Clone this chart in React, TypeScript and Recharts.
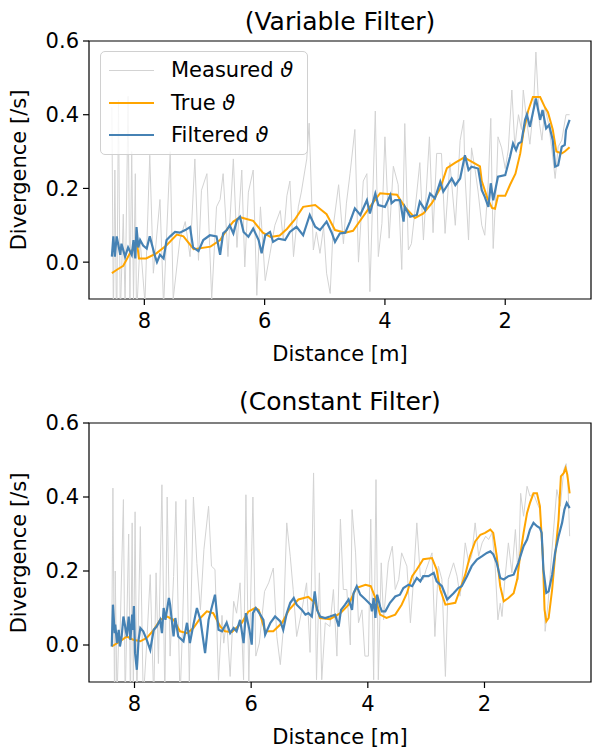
import React from 'react';
import { LineChart, Line, XAxis, YAxis, ReferenceArea } from 'recharts';

const FONT = '"DejaVu Sans", sans-serif';

type Pt = [number, number];

// [distance m, divergence /s]
const topMeasured: Pt[] = [
  [8.54, 0.42], [8.515, -0.15], [8.49, 0.25], [8.46, -0.2], [8.43, 0.44], [8.4, -0.15],
  [8.35, 0.13], [8.32, -0.12], [8.27, 0.45], [8.24, -0.12], [8.21, 0.3], [8.18, -0.1],
  [8.15, 0.24], [8.13, -0.15], [8.07, 0.06], [7.99, -0.11], [7.91, 0.29], [7.85, -0.03],
  [7.74, 0.17], [7.68, -0.12], [7.57, 0.3], [7.52, -0.1], [7.41, 0.06], [7.32, 0.11],
  [7.24, 0.015], [7.16, 0.28], [7.1, 0.005], [7.05, 0.195], [6.96, 0.24], [6.88, -0.1],
  [6.8, 0.15], [6.74, 0.17], [6.69, 0.24], [6.61, 0.015], [6.52, 0.28], [6.46, 0.04],
  [6.38, 0.25], [6.33, -0.013], [6.27, 0.19], [6.19, 0.25], [6.13, -0.09], [6.07, 0.15],
  [5.99, -0.05], [5.91, 0.024], [5.83, 0.1], [5.74, 0.14], [5.69, 0.06], [5.63, 0.18],
  [5.58, 0.22], [5.52, 0.015], [5.44, 0.15], [5.39, 0.19], [5.3, 0.28], [5.26, 0.377],
  [5.19, 0.033], [5.14, 0.082], [5.08, 0.024], [5.02, 0.096], [4.97, -0.03], [4.91, -0.085],
  [4.86, 0.096], [4.77, 0.21], [4.69, 0.05], [4.64, 0.16], [4.58, 0.24], [4.5, 0.36],
  [4.44, 0.0], [4.36, 0.22], [4.3, 0.24], [4.25, -0.08], [4.16, 0.41], [4.11, 0.015],
  [4.05, 0.105], [4.0, 0.34], [3.93, 0.065], [3.86, 0.26], [3.78, 0.21], [3.72, -0.02],
  [3.67, 0.376], [3.61, 0.033], [3.56, 0.05], [3.5, 0.14], [3.42, 0.27], [3.36, 0.06],
  [3.26, 0.34], [3.2, 0.08], [3.14, 0.295], [3.06, 0.295], [3.0, 0.078], [2.92, 0.27],
  [2.83, 0.1], [2.75, 0.33], [2.69, 0.385], [2.67, 0.24], [2.61, 0.06], [2.56, 0.31],
  [2.5, 0.25], [2.45, 0.19], [2.39, 0.1], [2.34, 0.073], [2.28, 0.223], [2.24, 0.39],
  [2.2, 0.037], [2.14, 0.24], [2.12, 0.34], [2.06, 0.31], [2.0, 0.254], [1.95, 0.304],
  [1.89, 0.467], [1.84, 0.313], [1.78, 0.4], [1.73, 0.36], [1.7, 0.467], [1.64, 0.38],
  [1.59, 0.32], [1.53, 0.42], [1.49, 0.57], [1.43, 0.376], [1.39, 0.331], [1.34, 0.42],
  [1.28, 0.376], [1.23, 0.313], [1.17, 0.227], [1.12, 0.313], [1.06, 0.331], [0.99, 0.4],
  [0.93, 0.4],
];

const topTrue: Pt[] = [
  [8.54, -0.03], [8.45, -0.02], [8.35, -0.01], [8.24, 0.024], [8.18, 0.037], [8.12, 0.05],
  [8.09, 0.01], [7.97, 0.01], [7.8, 0.024], [7.63, 0.046], [7.46, 0.075], [7.35, 0.07],
  [7.18, 0.035], [6.9, 0.042], [6.74, 0.06], [6.62, 0.09], [6.52, 0.11], [6.41, 0.122],
  [6.19, 0.112], [6.03, 0.08], [5.9, 0.068], [5.75, 0.072], [5.63, 0.09], [5.5, 0.115],
  [5.36, 0.15], [5.16, 0.155], [4.97, 0.13], [4.83, 0.087], [4.66, 0.08], [4.53, 0.085],
  [4.41, 0.113], [4.25, 0.15], [4.08, 0.187], [3.95, 0.185], [3.8, 0.183], [3.67, 0.15],
  [3.5, 0.12], [3.36, 0.132], [3.22, 0.16], [3.08, 0.2], [2.97, 0.255], [2.83, 0.27],
  [2.67, 0.285], [2.64, 0.28], [2.42, 0.26], [2.39, 0.22], [2.3, 0.175], [2.22, 0.147],
  [2.17, 0.145], [2.12, 0.18], [2.0, 0.18], [1.92, 0.21], [1.83, 0.24], [1.75, 0.295],
  [1.7, 0.35], [1.62, 0.41], [1.54, 0.448], [1.42, 0.448], [1.34, 0.42], [1.29, 0.407],
  [1.21, 0.36], [1.15, 0.3], [1.06, 0.295], [1.01, 0.3], [0.93, 0.312],
];

const topFiltered: Pt[] = [
  [8.54, 0.015], [8.515, 0.07], [8.49, 0.015], [8.46, 0.07], [8.4, 0.02], [8.38, 0.05],
  [8.32, 0.015], [8.27, 0.04], [8.21, 0.02], [8.18, 0.06], [8.15, 0.01], [8.13, 0.095],
  [8.1, 0.04], [8.07, 0.06], [8.02, 0.045], [7.96, 0.037], [7.91, 0.07], [7.82, 0.015],
  [7.79, 0.0], [7.74, 0.02], [7.68, 0.01], [7.63, 0.06], [7.57, 0.07], [7.49, 0.082],
  [7.41, 0.08], [7.32, 0.087], [7.24, 0.095], [7.19, 0.04], [7.1, 0.03], [7.02, 0.06],
  [6.91, 0.073], [6.8, 0.07], [6.74, 0.02], [6.69, 0.078], [6.63, 0.087], [6.58, 0.1],
  [6.52, 0.078], [6.46, 0.114], [6.41, 0.123], [6.35, 0.082], [6.27, 0.069], [6.19, 0.091],
  [6.1, 0.06], [6.05, 0.024], [5.99, 0.073], [5.91, 0.082], [5.86, 0.055], [5.77, 0.064],
  [5.66, 0.06], [5.58, 0.082], [5.47, 0.096], [5.36, 0.073], [5.25, 0.128], [5.16, 0.096],
  [5.08, 0.087], [4.97, 0.11], [4.88, 0.078], [4.83, 0.055], [4.75, 0.078], [4.66, 0.08],
  [4.58, 0.11], [4.5, 0.146], [4.41, 0.128], [4.3, 0.168], [4.25, 0.132], [4.16, 0.186],
  [4.11, 0.155], [4.0, 0.15], [3.91, 0.182], [3.89, 0.16], [3.83, 0.168], [3.75, 0.168],
  [3.69, 0.11], [3.67, 0.15], [3.58, 0.123], [3.47, 0.128], [3.42, 0.164], [3.33, 0.141],
  [3.25, 0.186], [3.17, 0.173], [3.08, 0.218], [3.03, 0.191], [2.89, 0.227], [2.83, 0.209],
  [2.75, 0.227], [2.67, 0.29], [2.61, 0.25], [2.56, 0.259], [2.45, 0.254], [2.39, 0.195],
  [2.34, 0.177], [2.28, 0.15], [2.24, 0.214], [2.2, 0.168], [2.12, 0.232], [2.0, 0.236],
  [1.92, 0.286], [1.87, 0.322], [1.82, 0.304], [1.78, 0.322], [1.73, 0.327], [1.67, 0.386],
  [1.64, 0.4], [1.59, 0.367], [1.49, 0.444], [1.42, 0.386], [1.38, 0.413], [1.32, 0.363],
  [1.27, 0.372], [1.21, 0.331], [1.17, 0.259], [1.12, 0.263], [1.06, 0.313], [1.01, 0.318],
  [0.99, 0.358], [0.93, 0.386],
];

const bottomMeasured: Pt[] = [
  [8.39, 0.0], [8.37, 0.424], [8.34, -0.2], [8.33, 0.2], [8.3, -0.15], [8.27, 0.03],
  [8.25, 0.014], [8.19, 0.393], [8.16, -0.15], [8.1, 0.3], [8.07, -0.15], [8.04, 0.33],
  [8.02, -0.14], [7.99, 0.36], [7.96, -0.15], [7.9, 0.32], [7.85, -0.15], [7.79, 0.005],
  [7.73, 0.19], [7.67, -0.15], [7.63, 0.195], [7.59, -0.05], [7.53, 0.433], [7.48, -0.15],
  [7.44, 0.4], [7.39, -0.03], [7.33, 0.185], [7.29, 0.388], [7.22, -0.15], [7.18, 0.032],
  [7.12, 0.393], [7.06, -0.1], [6.99, 0.4], [6.93, 0.22], [6.87, 0.095], [6.81, 0.258],
  [6.73, 0.375], [6.68, 0.213], [6.62, 0.204], [6.56, -0.095], [6.5, 0.08], [6.47, 0.005],
  [6.42, 0.068], [6.36, -0.085], [6.3, 0.118], [6.25, 0.086], [6.19, 0.168], [6.13, -0.094],
  [6.09, 0.406], [6.04, -0.1], [5.97, 0.4], [5.92, -0.03], [5.86, 0.005], [5.77, 0.145],
  [5.7, 0.168], [5.62, 0.208], [5.56, 0.023], [5.5, -0.053], [5.45, 0.041], [5.39, 0.33],
  [5.33, 0.24], [5.28, 0.15], [5.22, 0.023], [5.13, 0.095], [5.05, 0.168], [4.99, -0.02],
  [4.93, 0.465], [4.88, -0.094], [4.83, 0.195], [4.79, -0.094], [4.73, 0.06], [4.65, 0.05],
  [4.59, 0.15], [4.53, -0.03], [4.47, 0.34], [4.42, 0.15], [4.36, 0.15], [4.3, 0.0],
  [4.27, 0.366], [4.21, 0.249], [4.16, 0.06], [4.1, 0.095], [4.05, -0.03], [3.99, -0.03],
  [3.95, 0.34], [3.9, -0.094], [3.86, 0.447], [3.82, -0.094], [3.77, 0.222], [3.73, 0.068],
  [3.65, 0.222], [3.58, 0.267], [3.53, 0.15], [3.47, 0.177], [3.42, 0.249], [3.33, 0.213],
  [3.27, 0.06], [3.22, 0.168], [3.16, 0.33], [3.1, 0.186], [3.05, 0.177], [3.0, 0.204],
  [2.9, 0.249], [2.85, 0.023], [2.79, 0.213], [2.73, 0.177], [2.67, -0.085], [2.62, 0.177],
  [2.53, 0.222], [2.47, 0.186], [2.42, 0.132], [2.39, 0.168], [2.33, 0.276], [2.27, 0.222],
  [2.22, 0.24], [2.16, 0.33], [2.1, 0.24], [2.04, 0.276], [1.98, 0.294], [1.93, 0.285],
  [1.87, 0.303], [1.82, 0.222], [1.77, 0.068], [1.73, 0.113], [1.7, 0.077], [1.65, 0.177],
  [1.59, 0.276], [1.53, 0.195], [1.47, 0.312], [1.42, 0.177], [1.38, 0.41], [1.33, 0.348],
  [1.27, 0.429], [1.22, 0.402], [1.16, 0.41], [1.1, 0.384], [1.05, 0.366], [1.0, 0.258],
  [0.96, 0.037], [0.91, 0.113], [0.86, 0.222], [0.82, 0.303], [0.76, 0.42], [0.7, 0.375],
  [0.64, 0.474], [0.6, 0.49], [0.57, 0.438], [0.54, 0.294],
];

const bottomTrue: Pt[] = [
  [8.39, -0.004], [8.25, 0.01], [8.13, 0.023], [8.02, 0.014], [7.9, 0.01], [7.79, 0.019],
  [7.67, 0.041], [7.56, 0.068], [7.44, 0.077], [7.33, 0.068], [7.22, 0.037], [7.1, 0.032],
  [6.99, 0.046], [6.87, 0.073], [6.76, 0.091], [6.65, 0.086], [6.53, 0.05], [6.45, 0.037],
  [6.33, 0.035], [6.16, 0.06], [6.05, 0.09], [5.93, 0.1], [5.87, 0.095], [5.76, 0.037],
  [5.62, 0.037], [5.47, 0.06], [5.35, 0.095], [5.19, 0.123], [5.02, 0.13], [4.9, 0.113],
  [4.82, 0.073], [4.65, 0.07], [4.47, 0.086], [4.33, 0.109], [4.2, 0.154], [4.04, 0.163],
  [3.95, 0.159], [3.87, 0.127], [3.79, 0.082], [3.68, 0.073], [3.53, 0.082], [3.42, 0.109],
  [3.33, 0.14], [3.24, 0.186], [3.16, 0.204], [3.05, 0.232], [2.9, 0.235], [2.82, 0.204],
  [2.76, 0.15], [2.67, 0.109], [2.5, 0.114], [2.42, 0.15], [2.33, 0.19], [2.25, 0.24],
  [2.16, 0.28], [2.07, 0.298], [1.99, 0.303], [1.9, 0.312], [1.85, 0.303], [1.79, 0.24],
  [1.73, 0.159], [1.67, 0.118], [1.59, 0.127], [1.5, 0.14], [1.44, 0.177], [1.39, 0.24],
  [1.33, 0.303], [1.27, 0.357], [1.22, 0.384], [1.16, 0.41], [1.1, 0.41], [1.05, 0.375],
  [1.0, 0.24], [0.97, 0.095], [0.94, 0.064], [0.9, 0.073], [0.84, 0.15], [0.79, 0.24],
  [0.73, 0.339], [0.69, 0.456], [0.64, 0.465], [0.61, 0.478], [0.58, 0.46], [0.54, 0.41],
];

const bottomFiltered: Pt[] = [
  [8.39, -0.004], [8.37, 0.109], [8.34, 0.032], [8.33, 0.055], [8.3, 0.005], [8.27, 0.041],
  [8.25, -0.004], [8.22, 0.023], [8.19, 0.077], [8.16, 0.05], [8.13, 0.023], [8.1, 0.077],
  [8.07, 0.014], [8.04, 0.082], [8.03, 0.041], [8.01, 0.105], [7.99, -0.022], [7.96, -0.067],
  [7.93, 0.014], [7.9, 0.046], [7.85, 0.037], [7.79, 0.014], [7.73, -0.013], [7.67, 0.041],
  [7.62, 0.05], [7.56, 0.068], [7.53, 0.032], [7.5, 0.1], [7.47, 0.068], [7.41, 0.127],
  [7.39, 0.109], [7.33, 0.023], [7.3, 0.073], [7.25, 0.023], [7.16, 0.01], [7.1, 0.06],
  [7.05, 0.005], [6.99, 0.055], [6.93, 0.1], [6.87, 0.068], [6.79, -0.022], [6.73, 0.068],
  [6.62, 0.136], [6.56, 0.041], [6.5, 0.037], [6.42, 0.06], [6.36, 0.032], [6.3, 0.046],
  [6.25, 0.037], [6.19, 0.068], [6.13, 0.005], [6.09, 0.086], [6.03, 0.041], [5.99, 0.001],
  [5.97, 0.086], [5.92, 0.1], [5.86, 0.086], [5.79, 0.068], [5.76, 0.028], [5.67, 0.06],
  [5.59, 0.077], [5.5, 0.064], [5.45, 0.041], [5.39, 0.086], [5.33, 0.114], [5.27, 0.127],
  [5.22, 0.109], [5.13, 0.095], [5.07, 0.082], [5.02, 0.086], [4.96, 0.077], [4.91, 0.145],
  [4.87, 0.095], [4.82, 0.077], [4.73, 0.073], [4.65, 0.077], [4.56, 0.082], [4.5, 0.05],
  [4.46, 0.095], [4.39, 0.109], [4.33, 0.123], [4.27, 0.095], [4.245, 0.14], [4.19, 0.159],
  [4.13, 0.136], [4.04, 0.123], [3.95, 0.109], [3.93, 0.091], [3.9, 0.127], [3.87, 0.073],
  [3.84, 0.136], [3.79, 0.104], [3.76, 0.091], [3.7, 0.091], [3.62, 0.114], [3.53, 0.131],
  [3.45, 0.136], [3.39, 0.154], [3.3, 0.163], [3.24, 0.159], [3.16, 0.181], [3.1, 0.172],
  [3.05, 0.186], [2.96, 0.186], [2.87, 0.195], [2.82, 0.172], [2.73, 0.159], [2.64, 0.123],
  [2.53, 0.14], [2.45, 0.154], [2.39, 0.159], [2.3, 0.186], [2.22, 0.213], [2.13, 0.231],
  [2.04, 0.24], [1.96, 0.249], [1.9, 0.253], [1.85, 0.245], [1.79, 0.222], [1.73, 0.181],
  [1.67, 0.177], [1.59, 0.186], [1.5, 0.19], [1.42, 0.222], [1.33, 0.267], [1.27, 0.285],
  [1.22, 0.312], [1.16, 0.33], [1.1, 0.321], [1.05, 0.316], [1.02, 0.303], [0.99, 0.204],
  [0.94, 0.141], [0.9, 0.145], [0.84, 0.19], [0.79, 0.249], [0.73, 0.294], [0.67, 0.33],
  [0.63, 0.366], [0.59, 0.384], [0.54, 0.37],
];

const yTicks = [0, 0.2, 0.4, 0.6];
const xTicks = [2, 4, 6, 8];
const legendLabels = ['Measured', 'True', 'Filtered'];

const GREY = '#d3d3d3';
const ORANGE = '#ffa500';
const BLUE = '#4682b4';

const toRows = (pts: Pt[]) => pts.map(([d, v]) => ({ d, v }));

const LegendBox: React.FC = () => {
  const colors = [GREY, ORANGE, BLUE];
  const widths = [1, 2, 2.2];
  return (
    <div
      style={{
        position: 'absolute',
        left: 100,
        top: 51,
        width: 208,
        height: 104,
        boxSizing: 'border-box',
        border: '1px solid #d0d0d0',
        borderRadius: 5,
        background: 'rgba(255,255,255,0.8)',
        fontFamily: FONT,
        fontSize: 21,
      }}
    >
      {legendLabels.map((label, i) => {
        const cy = 18 + i * 32.5;
        return (
          <React.Fragment key={label}>
            <div
              style={{
                position: 'absolute',
                left: 8,
                top: cy - widths[i] / 2,
                width: 45,
                height: widths[i],
                background: colors[i],
              }}
            />
            <div
              style={{
                position: 'absolute',
                left: 70,
                top: cy,
                transform: 'translateY(-50%)',
                lineHeight: 1,
                whiteSpace: 'nowrap',
              }}
            >
              {label} <i>ϑ</i>
            </div>
          </React.Fragment>
        );
      })}
    </div>
  );
};

interface PanelProps {
  top: number;
  marginTop: number;
  marginBottom: number;
  domain: [number, number];
  title: string;
  titleY: number;
  xLabelY: number;
  measured: Pt[];
  truth: Pt[];
  filtered: Pt[];
  showLegend?: boolean;
}

const Panel: React.FC<PanelProps> = ({
  top, marginTop, marginBottom, domain, title, titleY, xLabelY, measured, truth, filtered, showLegend,
}) => {
  const H = 376;
  const plotTop = marginTop;
  const plotBottom = H - marginBottom - 40;
  const tickStyle = { fill: '#000', fontSize: 21, fontFamily: FONT };
  const textStyle: React.CSSProperties = {
    position: 'absolute',
    fontFamily: FONT,
    fontSize: 21,
    lineHeight: 1,
    whiteSpace: 'nowrap',
    color: '#000',
  };
  return (
    <div style={{ position: 'absolute', left: 0, top, width: 592, height: H }}>
      <LineChart
        width={592}
        height={H}
        margin={{ top: marginTop, right: 1, bottom: marginBottom, left: 29 }}
      >
        <XAxis
          dataKey="d"
          type="number"
          domain={domain}
          allowDataOverflow
          reversed
          ticks={xTicks}
          height={40}
          tick={tickStyle}
          tickSize={6}
          tickMargin={8}
          axisLine={false}
          tickLine={{ stroke: '#000', strokeWidth: 1.2 }}
        />
        <YAxis
          type="number"
          domain={[-0.1, 0.6]}
          allowDataOverflow
          ticks={yTicks}
          width={60}
          tick={tickStyle}
          tickFormatter={(v: number) => v.toFixed(1)}
          tickSize={6}
          tickMargin={4}
          axisLine={false}
          tickLine={{ stroke: '#000', strokeWidth: 1.2 }}
        />
        <Line
          data={toRows(measured)}
          dataKey="v"
          type="linear"
          stroke={GREY}
          strokeWidth={1}
          dot={false}
          isAnimationActive={false}
        />
        <Line
          data={toRows(truth)}
          dataKey="v"
          type="linear"
          stroke={ORANGE}
          strokeWidth={2}
          dot={false}
          isAnimationActive={false}
        />
        <Line
          data={toRows(filtered)}
          dataKey="v"
          type="linear"
          stroke={BLUE}
          strokeWidth={2.2}
          dot={false}
          isAnimationActive={false}
        />
        <ReferenceArea
          x1={domain[0]}
          x2={domain[1]}
          y1={-0.1}
          y2={0.6}
          fill="none"
          fillOpacity={0}
          stroke="#000"
          strokeWidth={1.2}
          ifOverflow="visible"
        />
      </LineChart>
      <div style={{ ...textStyle, left: 340, top: titleY, transform: 'translate(-50%, -50%)', fontSize: 25 }}>
        {title}
      </div>
      <div style={{ ...textStyle, left: 340, top: xLabelY, transform: 'translate(-50%, -50%)' }}>
        Distance [m]
      </div>
      <div
        style={{
          ...textStyle,
          left: 19,
          top: (plotTop + plotBottom) / 2,
          transform: 'translate(-50%, -50%) rotate(-90deg)',
        }}
      >
        Divergence [/s]
      </div>
      {showLegend && <LegendBox />}
    </div>
  );
};

export default function App() {
  return (
    <div style={{ position: 'absolute', left: 0, top: 0, width: 592, height: 752, background: '#fff' }}>
      <Panel
        top={0}
        marginTop={41}
        marginBottom={37}
        domain={[0.574, 8.92]}
        title="(Variable Filter)"
        titleY={21}
        xLabelY={354}
        measured={topMeasured}
        truth={topTrue}
        filtered={topFiltered}
        showLegend
      />
      <Panel
        top={376}
        marginTop={47}
        marginBottom={30}
        domain={[0.174, 8.78]}
        title="(Constant Filter)"
        titleY={25}
        xLabelY={361}
        measured={bottomMeasured}
        truth={bottomTrue}
        filtered={bottomFiltered}
      />
    </div>
  );
}
